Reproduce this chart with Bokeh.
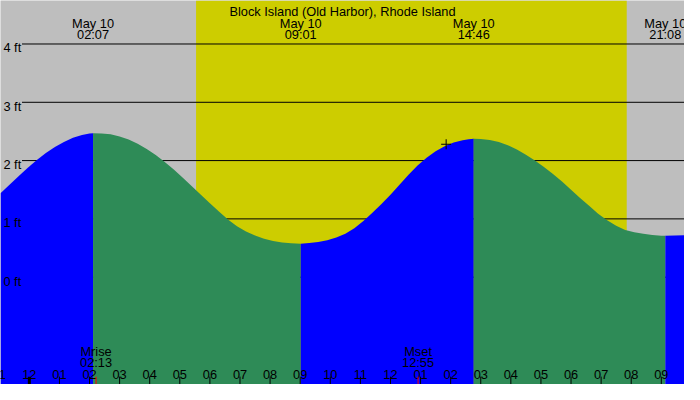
from bokeh.plotting import figure
from bokeh.models import Range1d
from bokeh.core.properties import value
from bokeh.embed import file_html
from bokeh.resources import INLINE

# ---- data (hours after midnight May 10, feet) ----
title = "Block Island (Old Harbor), Rhode Island"
tide_hours = [-0.958, -0.65, -0.35, -0.05, 0.25, 0.55, 0.85, 1.15, 1.45, 1.75, 2.0, 2.117,
              2.4, 2.7, 3.0, 3.3, 3.6, 3.9, 4.2, 4.5, 4.8, 5.1, 5.4, 5.7, 6.0, 6.3, 6.6,
              6.9, 7.2, 7.5, 7.8, 8.1, 8.4, 8.7, 9.017,
              9.3, 9.6, 9.9, 10.2, 10.5, 10.8, 11.1, 11.4, 11.7, 12.0, 12.3, 12.6, 12.9,
              13.2, 13.5, 13.8, 14.1, 14.4, 14.6, 14.767,
              15.0, 15.3, 15.6, 15.9, 16.2, 16.5, 16.8, 17.1, 17.4, 17.7, 18.0, 18.3, 18.6,
              18.9, 19.2, 19.5, 19.8, 20.1, 20.4, 20.7, 21.0, 21.133, 21.45, 21.77]
tide_feet = [1.44, 1.59, 1.735, 1.875, 2.01, 2.13, 2.235, 2.32, 2.39, 2.438, 2.463, 2.47,
             2.465, 2.45, 2.415, 2.36, 2.29, 2.2, 2.095, 1.975, 1.845, 1.705, 1.56, 1.415,
             1.27, 1.125, 0.99, 0.875, 0.785, 0.715, 0.66, 0.62, 0.595, 0.58, 0.575,
             0.585, 0.605, 0.635, 0.68, 0.745, 0.84, 0.965, 1.105, 1.255, 1.415, 1.585,
             1.755, 1.915, 2.05, 2.16, 2.245, 2.31, 2.35, 2.368, 2.375,
             2.37, 2.355, 2.32, 2.265, 2.19, 2.1, 2.0, 1.89, 1.77, 1.64, 1.5, 1.36, 1.225,
             1.09, 0.975, 0.88, 0.81, 0.77, 0.743, 0.724, 0.712, 0.71, 0.713, 0.72]
extreme_hours = [2.117, 9.017, 14.767, 21.133]
extreme_dates = ["May 10", "May 10", "May 10", "May 10"]
extreme_times = ["02:07", "09:01", "14:46", "21:08"]
sun_hours = [5.54, 19.85]          # sunrise, sunset
moon_hours = [2.217, 12.917]       # moonrise, moonset
moon_names = ["Mrise", "Mset"]
moon_times = ["02:13", "12:55"]
now_hour = [13.85]
now_feet = [2.28]
level_values = [4, 3, 2, 1, 0]
level_labels = ["4 ft", "3 ft", "2 ft", "1 ft", "0 ft"]
tick_hours = list(range(-1, 22))
tick_labels = ["11", "12", "01", "02", "03", "04", "05", "06", "07", "08", "09", "10",
               "11", "12", "01", "02", "03", "04", "05", "06", "07", "08", "09"]

X0, X1 = -0.958, 21.77
Y0, Y1 = -1.841, 4.746
FONT = value("Liberation Sans")
FS = "12.8px"
GREY = "#BEBEBE"
YELLOW = "#CDCD00"
BLUE = "#0000FF"
GREEN = "#2E8B57"

p = figure(width=684, height=384, x_range=Range1d(X0, X1), y_range=Range1d(Y0, Y1),
           output_backend="svg", toolbar_location=None, min_border=0,
           x_axis_location=None, y_axis_location=None,
           background_fill_color=GREY, border_fill_color=GREY)
p.grid.visible = False
p.outline_line_color = None

# daylight
p.quad(left=[sun_hours[0]], right=[sun_hours[1]], bottom=[Y0], top=[Y1],
       fill_color=YELLOW, line_color=None)

# level lines
p.segment(x0=[-0.244] * len(level_values), y0=level_values,
          x1=[X1] * len(level_values), y1=level_values, line_color="black", line_width=1)

# tide fill, split at extremes
bounds = [X0] + extreme_hours + [X1]
colors = [BLUE, GREEN, BLUE, GREEN, BLUE]
for i in range(len(bounds) - 1):
    a, b = bounds[i], bounds[i + 1]
    xs = [h for h in tide_hours if a - 1e-9 <= h <= b + 1e-9]
    ys = [f for h, f in zip(tide_hours, tide_feet) if a - 1e-9 <= h <= b + 1e-9]
    p.varea(x=xs, y1=[Y0] * len(xs), y2=ys, fill_color=colors[i])

# level labels
p.text(x=[-0.86] * len(level_values), y=[v - 0.066 for v in level_values], text=level_labels,
       text_font=FONT, text_font_size=FS, text_align="left", text_baseline="alphabetic",
       text_color="black")

# title
p.text(x=[10.406], y=[4.553], text=[title], text_font=FONT, text_font_size=FS,
       text_align="center", text_baseline="alphabetic", text_color="black")

# extreme labels
p.text(x=extreme_hours, y=[4.35] * 4, text=extreme_dates, text_font=FONT, text_font_size=FS,
       text_align="center", text_baseline="alphabetic", text_color="black")
p.text(x=extreme_hours, y=[4.164] * 4, text=extreme_times, text_font=FONT, text_font_size=FS,
       text_align="center", text_baseline="alphabetic", text_color="black")

# hour ticks
reg = [h for h in tick_hours if h != 0]
p.segment(x0=reg, y0=[-1.706] * len(reg), x1=reg, y1=[Y0] * len(reg),
          line_color="black", line_width=1)
p.segment(x0=[0], y0=[-1.706], x1=[0], y1=[Y0], line_color="black", line_width=3)
p.text(x=tick_hours, y=[-1.665] * len(tick_hours), text=tick_labels, text_font=FONT,
       text_font_size=FS, text_align="center", text_baseline="alphabetic", text_color="black")

# moon
p.segment(x0=moon_hours, y0=[-1.706] * 2, x1=moon_hours, y1=[Y0] * 2,
          line_color="red", line_width=1)
p.text(x=moon_hours, y=[-1.281] * 2, text=moon_names, text_font=FONT, text_font_size=FS,
       text_align="center", text_baseline="alphabetic", text_color="black")
p.text(x=moon_hours, y=[-1.467] * 2, text=moon_times, text_font=FONT, text_font_size=FS,
       text_align="center", text_baseline="alphabetic", text_color="black")

# now marker
p.scatter(x=now_hour, y=now_feet, marker="cross", size=10, line_color="black", line_width=1)

open("out.html", "w").write(file_html(p, INLINE))
